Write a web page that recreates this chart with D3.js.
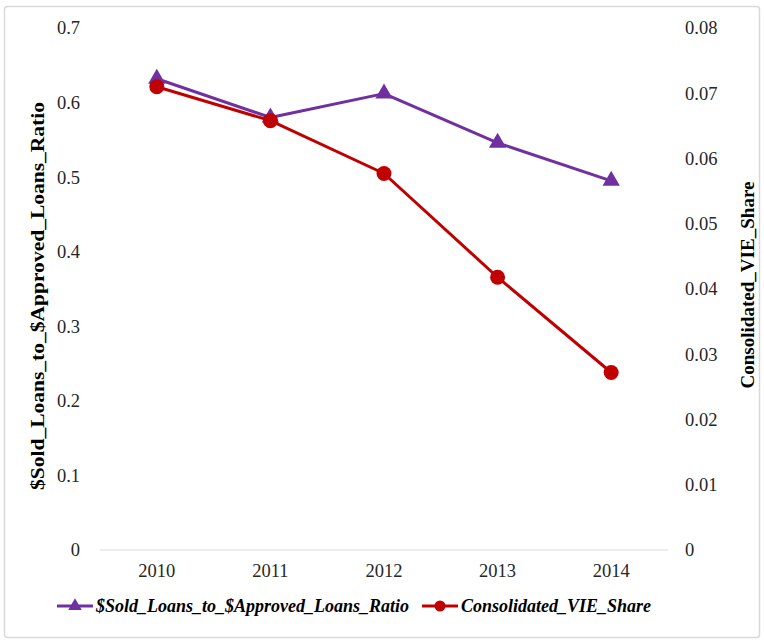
<!DOCTYPE html>
<html>
<head>
<meta charset="utf-8">
<script src="https://cdn.jsdelivr.net/npm/d3@7"></script>
<style>
  html, body { margin: 0; padding: 0; background: #fff; }
  svg { display: block; }
  svg text { font-family: "Liberation Serif", "Times New Roman", serif !important; }
</style>
</head>
<body>
<svg id="chart" width="764" height="641"></svg>
<script>
// Yearly categories and the two series (left and right axes)
const years = ["2010", "2011", "2012", "2013", "2014"];
const soldToApprovedRatio = [0.632, 0.580, 0.612, 0.546, 0.495];
const consolidatedVieShare = [0.0710, 0.0658, 0.0577, 0.0418, 0.0272];
const leftTicks = [0, 0.1, 0.2, 0.3, 0.4, 0.5, 0.6, 0.7];
const rightTicks = [0, 0.01, 0.02, 0.03, 0.04, 0.05, 0.06, 0.07, 0.08];
const seriesNames = ["$Sold_Loans_to_$Approved_Loans_Ratio", "Consolidated_VIE_Share"];
const leftTitle = "$Sold_Loans_to_$Approved_Loans_Ratio";
const rightTitle = "Consolidated_VIE_Share";

const purple = "#7030A0";
const red = "#C00000";

const svg = d3.select("#chart");

// Outer frame
svg.append("rect")
  .attr("x", 4.5).attr("y", 6.5)
  .attr("width", 755).attr("height", 631)
  .attr("rx", 3)
  .attr("fill", "#fff")
  .attr("stroke", "#d9d9d9")
  .attr("stroke-width", 1.5);

const plot = { left: 100, right: 668, top: 28, bottom: 550 };

const x = d3.scaleBand().domain(years).range([plot.left, plot.right]);
const yL = d3.scaleLinear().domain([0, 0.7]).range([plot.bottom, plot.top]);
const yR = d3.scaleLinear().domain([0, 0.08]).range([plot.bottom, plot.top]);

// Baseline
svg.append("line")
  .attr("x1", plot.left).attr("x2", plot.right)
  .attr("y1", yL(0)).attr("y2", yL(0))
  .attr("stroke", "#d9d9d9").attr("stroke-width", 1.2);

const tickFont = 18.5;

// Left axis labels
const leftAxis = d3.axisLeft(yL).tickValues(leftTicks)
  .tickFormat(d => d === 0 ? "0" : d3.format(".1f")(d))
  .tickSize(0).tickPadding(20);
svg.append("g")
  .attr("transform", `translate(${plot.left},0)`)
  .call(leftAxis)
  .call(g => g.select(".domain").remove())
  .call(g => g.selectAll("text")
    .attr("font-size", tickFont).attr("fill", "#262626"));

// Right axis labels
const rightAxis = d3.axisRight(yR).tickValues(rightTicks)
  .tickFormat(d => d === 0 ? "0" : d3.format(".2f")(d))
  .tickSize(0).tickPadding(17);
svg.append("g")
  .attr("transform", `translate(${plot.right},0)`)
  .call(rightAxis)
  .call(g => g.select(".domain").remove())
  .call(g => g.selectAll("text")
    .attr("font-size", tickFont).attr("fill", "#262626"));

// Category axis labels
const bottomAxis = d3.axisBottom(x).tickSize(0).tickPadding(14);
svg.append("g")
  .attr("transform", `translate(0,${plot.bottom})`)
  .call(bottomAxis)
  .call(g => g.select(".domain").remove())
  .call(g => g.selectAll("text")
    .attr("font-size", tickFont).attr("fill", "#262626"));

// Axis titles
const midY = (plot.top + plot.bottom) / 2;
svg.append("text")
  .attr("transform", `translate(44,${midY + 7}) rotate(-90)`)
  .attr("text-anchor", "middle")
  .attr("font-size", 19).attr("font-weight", "bold").attr("fill", "#000")
  .attr("textLength", 388).attr("lengthAdjust", "spacingAndGlyphs")
  .text(leftTitle);

svg.append("text")
  .attr("transform", `translate(754,${midY - 4}) rotate(-90)`)
  .attr("text-anchor", "middle")
  .attr("font-size", 19).attr("font-weight", "bold").attr("fill", "#000")
  .attr("textLength", 207).attr("lengthAdjust", "spacingAndGlyphs")
  .text(rightTitle);

const cx = d => x(d) + x.bandwidth() / 2;

// Series 1: ratio on left axis
const line1 = d3.line().x((d, i) => cx(years[i])).y(d => yL(d));
svg.append("path")
  .datum(soldToApprovedRatio)
  .attr("d", line1)
  .attr("fill", "none").attr("stroke", purple).attr("stroke-width", 3)
  .attr("stroke-linejoin", "round");

const tri = d3.symbol().type(d3.symbolTriangle).size(130);
svg.append("g").selectAll("path")
  .data(soldToApprovedRatio)
  .join("path")
  .attr("d", tri)
  .attr("transform", (d, i) => `translate(${cx(years[i])},${yL(d)})`)
  .attr("fill", purple);

// Series 2: VIE share on right axis
const line2 = d3.line().x((d, i) => cx(years[i])).y(d => yR(d));
svg.append("path")
  .datum(consolidatedVieShare)
  .attr("d", line2)
  .attr("fill", "none").attr("stroke", red).attr("stroke-width", 3)
  .attr("stroke-linejoin", "round");

svg.append("g").selectAll("circle")
  .data(consolidatedVieShare)
  .join("circle")
  .attr("cx", (d, i) => cx(years[i]))
  .attr("cy", d => yR(d))
  .attr("r", 7.5)
  .attr("fill", red);

// Legend
const legendY = 606;
const legendItems = [
  { name: seriesNames[0], color: purple, marker: "tri", x0: 57 },
  { name: seriesNames[1], color: red, marker: "circle", x0: 422 }
];
const lg = svg.append("g");
legendItems.forEach(item => {
  const g = lg.append("g");
  g.append("line")
    .attr("x1", item.x0).attr("x2", item.x0 + 36)
    .attr("y1", legendY).attr("y2", legendY)
    .attr("stroke", item.color).attr("stroke-width", 3);
  if (item.marker === "tri") {
    g.append("path")
      .attr("d", d3.symbol().type(d3.symbolTriangle).size(80))
      .attr("transform", `translate(${item.x0 + 18},${legendY})`)
      .attr("fill", item.color);
  } else {
    g.append("circle")
      .attr("cx", item.x0 + 18).attr("cy", legendY).attr("r", 5.5)
      .attr("fill", item.color);
  }
  g.append("text")
    .attr("x", item.x0 + 39).attr("y", legendY + 6)
    .attr("font-size", 18).attr("font-style", "italic").attr("font-weight", "bold")
    .attr("fill", "#000")
    .text(item.name);
});
</script>
</body>
</html>
